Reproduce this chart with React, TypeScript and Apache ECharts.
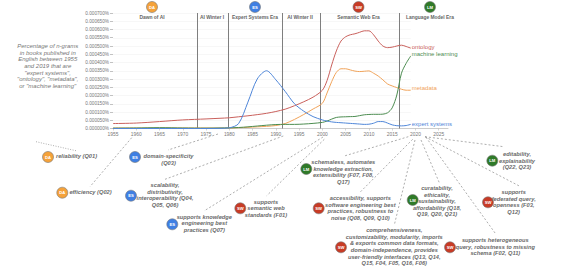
import React, { useEffect, useRef } from "react";
import * as echarts from "echarts";

const years = [1955,1960,1965,1970,1975,1978,1980,1982,1984,1986,1988,1990,1992,1994,1996,1998,2000,2001,2002,2003,2004,2005,2006,2007,2008,2009,2010,2011,2012,2013,2014,2015,2016,2017,2018,2019];
const ontology = [30,33,42,52,58,62,65,71,77,84,92,103,117,138,162,190,232,290,385,470,530,556,568,574,583,592,592,568,530,500,490,493,500,505,497,487];
const metadata = [3,3,3,3,3,3,3,5,7,10,13,18,30,55,85,118,153,215,284,340,362,362,355,348,345,347,349,335,318,295,270,258,248,238,232,232];
const machineLearning = [2,3,5,3,2,3,4,6,10,15,20,24,25,25,27,31,37,45,57,67,70,71,72,73,78,83,85,86,86,87,95,125,203,335,395,440];
const expertSystems = [0,0,0,0,0,1,4,30,160,300,350,295,225,150,105,72,52,45,40,37,35,33,31,29,27,25,26,32,42,42,33,22,17,16,18,25];
const eraBoundaries = [1973.2,1979.7,1991.3,1999.5,2016.5];
const yTicks = [0,50,100,150,200,250,300,350,400,450,500,550,600,650,700];

const C = { DA: "#F5A23A", ES: "#3F7FE3", SW: "#C83B25", LM: "#2F7A28" };
const eras = [
  ["Dawn of AI", 152, "DA"], ["AI Winter I", 212, ""], ["Expert Systems Era", 255, "ES"],
  ["AI Winter II", 300, ""], ["Semantic Web Era", 358.5, "SW"], ["Language Model Era", 430, "LM"],
] as const;
const intro = 'Percentage of n-grams\nin books published in\nEnglish between 1955\nand 2019 that are\n"expert systems",\n"ontology", "metadata",\nor "machine learning"';
const badges: [string, number, number][] = [
  ["DA",48,157],["DA",62.3,192.7],["ES",135,157],["ES",131,195.7],["ES",172.3,224.3],["SW",240.3,208.3],
  ["LM",306.3,169],["SW",318.7,208.3],["LM",412.7,200],["SW",341,247.3],["SW",450,247.3],["SW",488,202.3],["LM",492.3,160.7],
];
const notes: [string, number, number][] = [
  ["reliability (Q01)",76.5,156.3],
  ["efficiency (Q02)",90.5,192.2],
  ["domain-specificity\n(Q03)",168.5,159.3],
  ["scalability,\ndistributivity,\ninteroperability (Q04,\nQ05, Q06)",165,195.2],
  ["supports knowledge\nengineering best\npractices (Q07)",204.3,223.3],
  ["supports\nsemantic web\nstandards (F01)",266,208.3],
  ["schemaless, automates\nknowledge extraction,\nextensibility (F07, F08,\nQ17)",343.3,171.8],
  ["accessibility, supports\nsoftware engineering best\npractices, robustness to\nnoise (Q08, Q09, Q10)",360.3,208],
  ["curatability,\nethicality,\nsustainability,\naffordability (Q18,\nQ19, Q20, Q21)",437,201.3],
  ["comprehensiveness,\ncustomizability, modularity, imports\n& exports common data formats,\ndomain-independence, provides\nuser-friendly interfaces (Q13, Q14,\nQ15, F04, F05, Q16, F06)",394.3,246.7],
  ["supports heterogeneous\nquery, robustness to missing\nschema (F02, Q11)",495.3,246.7],
  ["supports\nfederated query,\nopenness (F03,\nQ12)",513.7,202],
  ["editability,\nexplainability\n(Q22, Q23)",517,160.7],
];
const leaders: [number, number, number, number, number[]][] = [
  [36,141.7,76,150.7,[1,1.5]],
  [131.7,137.7,90,186.7,[2,2]],
  [218,134,168,150,[2,2]],
  [283.3,136,165,179.3,[2,2]],
  [323,137,204,211,[2,2]],
  [324.3,139.3,266.7,195.7,[2,2]],
  [408.3,136.7,343.3,156.3,[2,2]],
  [412.7,139.3,360,192.3,[2,2]],
  [415,140,394.3,225,[2,2]],
  [421,140,439.3,182.7,[2,2]],
  [426,137.3,496,234.3,[2,2]],
  [425,136.7,519.3,186,[2,2]],
  [425,136.7,503.7,146.7,[2,2]],
];

const FONT = "'Liberation Sans', Arial, sans-serif";
const pairs = (v: number[]) => years.map((y, i) => [y, v[i] / 1e6]);

function line(name: string, values: number[], color: string, offset: number[], z = 3, extra = {}) {
  return {
    name, type: "line", data: pairs(values), smooth: 0.3, symbol: "none", z,
    lineStyle: { color, width: 1 }, itemStyle: { color },
    endLabel: { show: true, formatter: "{a}", color, fontFamily: FONT, fontSize: 6, distance: 1, offset },
    labelLayout: { hideOverlap: false },
    ...extra,
  };
}

export default function App() {
  const ref = useRef<HTMLDivElement>(null);
  useEffect(() => {
    document.body.style.margin = "0";
    const chart = echarts.init(ref.current!, null, { renderer: "svg" });
    const lines = [
      ...yTicks.slice(1).map((t) => [
        { coord: [1955, t / 1e6], lineStyle: { color: "#f1f1f1", width: 0.6, type: "solid" } },
        { coord: [2019, t / 1e6] },
      ]),
      ...eraBoundaries.map((x) => [
        { coord: [x, 0], lineStyle: { color: "#7f7f7f", width: 1, type: "solid" } },
        { coord: [x, 700 / 1e6] },
      ]),
    ];
    const graphic: any[] = [
      { type: "text", x: 47.7, y: 66, style: { text: intro, font: `italic 6px ${FONT}`, fill: "#777", align: "center", verticalAlign: "middle", lineHeight: 6.65 } },
      ...leaders.map(([x1, y1, x2, y2, dash]) => ({
        type: "line", shape: { x1, y1, x2, y2 }, style: { stroke: "#777", lineWidth: 0.6, lineDash: dash },
      })),
      ...eras.map(([t, x]) => ({
        type: "text", x, y: 17.3, style: { text: t, font: `bold 4.9px ${FONT}`, fill: "#666", align: "center", verticalAlign: "middle" },
      })),
      ...eras.filter((e) => e[2]).map(([, x, k]) => [k, x, 7] as [string, number, number]).concat(badges).flatMap(([k, x, y]) => [
        { type: "circle", shape: { cx: x, cy: y, r: 5.5 }, style: { fill: (C as any)[k], stroke: "#777", lineWidth: 0.6 } },
        { type: "text", x, y, style: { text: k, font: `bold 4.2px ${FONT}`, fill: "#fff", align: "center", verticalAlign: "middle" } },
      ]),
      ...notes.map(([t, x, y]) => ({
        type: "text", x, y, style: { text: t, font: `italic bold 5.7px ${FONT}`, fill: "#6a6a6a", align: "center", verticalAlign: "middle", lineHeight: 6.6 },
      })),
    ];
    chart.setOption({
      animation: false,
      grid: { left: 113, top: 13, right: 114, bottom: 137.5, containLabel: false },
      xAxis: {
        type: "value", min: 1955, max: 2027, interval: 5, splitLine: { show: false },
        axisLine: { lineStyle: { color: "#ccc", width: 1 } },
        axisTick: { length: 2, lineStyle: { color: "#bbb", width: 0.6 } },
        axisLabel: { fontFamily: FONT, fontSize: 4.9, color: "#777", margin: 3, formatter: (v: number) => (v % 5 === 0 ? String(v) : ""), showMaxLabel: false },
      },
      yAxis: {
        type: "value", min: 0, max: 700 / 1e6, interval: 50 / 1e6, splitLine: { show: false },
        axisLine: { show: false },
        axisTick: { show: true, length: 3, lineStyle: { color: "#999", width: 0.6 } },
        axisLabel: { fontFamily: FONT, fontSize: 4.7, color: "#777", margin: 4, formatter: (v: number) => v.toFixed(6) + "%" },
      },
      series: [
        line("ontology", ontology, "#C9605C", [0, -1], 3, { markLine: { silent: true, symbol: "none", label: { show: false }, z: 1, animation: false, data: lines } }),
        line("metadata", metadata, "#F0A35A", [0, -2]),
        line("machine learning", machineLearning, "#4C8C50", [0, -1.5]),
        line("expert systems", expertSystems, "#4F86D8", [0, -0.5]),
      ],
      graphic,
    });
    return () => chart.dispose();
  }, []);
  return <div ref={ref} style={{ width: 562, height: 266 }} />;
}
